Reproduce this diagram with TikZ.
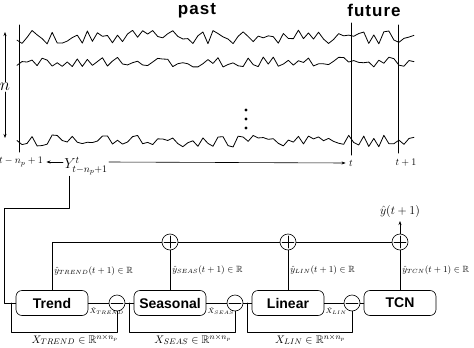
\documentclass[tikz,border=0pt]{standalone}
\usepackage{amssymb}
\usepackage{fontspec}
\setsansfont{Liberation Sans}
\newfontfamily\headfont[LetterSpace=6]{Liberation Sans}
\usetikzlibrary{arrows.meta}
\tikzstyle{every path}=[line width=0.6pt,line cap=round,line join=round]
\tikzstyle{block}=[draw,rounded corners=6pt,minimum width=72pt,minimum height=25pt,inner sep=0pt,font=\sffamily\bfseries\fontsize{14}{16}\selectfont]
\tikzstyle{summer}=[draw,circle,minimum size=16pt,inner sep=0pt]
\tikzstyle{subnode}=[summer,path picture={\draw ([xshift=2pt]path picture bounding box.west) -- ([xshift=-2pt]path picture bounding box.east);}]
\tikzstyle{addnode}=[summer,path picture={\draw ([xshift=2pt]path picture bounding box.west) -- ([xshift=-2pt]path picture bounding box.east) ([yshift=-2pt]path picture bounding box.north) -- ([yshift=2pt]path picture bounding box.south);}]
\tikzstyle{series}=[line width=0.8pt]
\tikzstyle{timeline}=[line width=1pt]
\tikzstyle{headtxt}=[font=\headfont\bfseries\fontsize{17}{20}\selectfont]
\tikzstyle{ylbl}=[right,font=\small,inner sep=2pt]
\tikzstyle{hatlbl}=[below right,font=\scriptsize,inner sep=1pt,yshift=-3pt]
\tikzstyle{xlbl}=[below,font=\fontsize{11}{13}\selectfont,inner sep=2pt]
\tikzstyle{arr}=[-{Stealth[length=4pt,width=3pt]}]

\begin{document}
\begin{tikzpicture}[x=1pt,y=-1pt]
\useasboundingbox (0,0) rectangle (474,348);
%Window of the series (top)
 %noisy series
	\pgfmathsetseed{12}
	\draw[series] plot[domain=17:414,samples=80] (\x,{37+7*rand});
	\draw[series] plot[domain=17:414,samples=80] (\x,{62+5*rand});
	\draw[series] plot[domain=17:414,samples=80] (\x,{141+6*rand});
	\foreach \dy in {110,119,128} \fill (246,\dy) circle (1.6);
 %time marks
	\draw[timeline] (19,25) -- (19,152);
	\draw[timeline] (351,23) -- (351,155);
	\draw[timeline] (398,25) -- (398,153);
	\node[headtxt] (past) at (197,11) {past};
	\node[headtxt] (future) at (374,10) {future};
	\node[font=\fontsize{18}{20}\selectfont,inner sep=1pt] (nlab) at (5,87) {$n$};
	\coordinate (ntop) at (5,32);
	\coordinate (nbot) at (5,138);
	\draw[arr] (nlab) -- (ntop);
	\draw[arr] (nlab) -- (nbot);
 %time axis
	\node (tstart) at (21,162) {$t-n_p+1$};
	\node[font=\fontsize{14}{16}\selectfont,inner sep=1pt] (win) at (86,166) {$Y^{t}_{t-n_p+1}$};
	\node (tnow) at (351,163) {$t$};
	\node (tnext) at (406,163) {$t+1$};
	\draw[arr] (tstart.east -| win.west) -- (tstart.east);
	\draw[arr] (tstart.east -| win.east) -- (tnow.west);
%Decomposition chain (bottom)
	\node[block] (trend) at (52,303) {Trend};
	\node[block] (seas) at (170,303) {Seasonal};
	\node[block] (lin) at (288,303) {Linear};
	\node[block] (tcn) at (400,303) {TCN};
	\node[subnode] (m1) at (117,303) {};
	\node[subnode] (m2) at (235,303) {};
	\node[subnode] (m3) at (352,303) {};
	\node[addnode] (p1) at (170,242) {};
	\node[addnode] (p2) at (288,242) {};
	\node[addnode] (p3) at (400,242) {};
 %input
	\draw ([xshift=6pt]win.south west) -- ++(0,32) -| ([xshift=-11pt]trend.west) -- (trend.west);
 %residuals
	\draw (trend) -- node[hatlbl,pos=0]{$\hat{X}_{TREND}$} (m1);
	\draw (seas) -- node[hatlbl,pos=0]{$\hat{X}_{SEAS}$} (m2);
	\draw (lin) -- node[hatlbl,pos=0]{$\hat{X}_{LIN}$} (m3);
	\draw (m1) -- (seas);
	\draw (m2) -- (lin);
	\draw (m3) -- (tcn);
	\draw ([xshift=-4pt]trend.west) -- ++(0,29) -| node[xlbl,pos=0.3]{$X_{TREND}\in\mathbb{R}^{n\times n_p}$} (m1.south);
	\draw ([xshift=-4pt]seas.west) -- ++(0,29) -| node[xlbl,pos=0.3]{$X_{SEAS}\in\mathbb{R}^{n\times n_p}$} (m2.south);
	\draw ([xshift=-4pt]lin.west) -- ++(0,29) -| node[xlbl,pos=0.3]{$X_{LIN}\in\mathbb{R}^{n\times n_p}$} (m3.south);
 %forecasts
	\draw (trend.north) |- node[ylbl,pos=0.2]{$\hat{y}_{TREND}(t+1)\in\mathbb{R}$} (p1.west);
	\draw (seas) -- node[ylbl]{$\hat{y}_{SEAS}(t+1)\in\mathbb{R}$} (p1);
	\draw (lin) -- node[ylbl]{$\hat{y}_{LIN}(t+1)\in\mathbb{R}$} (p2);
	\draw (tcn) -- node[ylbl]{$\hat{y}_{TCN}(t+1)\in\mathbb{R}$} (p3);
	\draw (p1) -- (p2);
	\draw (p2) -- (p3);
	\draw[arr] (p3) -- ++(0,-21) node[above,font=\fontsize{13}{15}\selectfont,inner sep=3pt]{$\hat{y}(t+1)$};
\end{tikzpicture}
\end{document}
